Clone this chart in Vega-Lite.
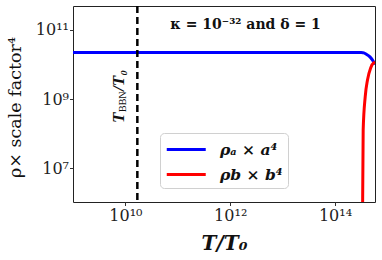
{
  "$schema": "https://vega.github.io/schema/vega-lite/v6.json",
  "width": 302,
  "height": 196,
  "autosize": "none",
  "padding": {"left": 73, "top": 6, "right": 7, "bottom": 58},
  "background": "white",
  "config": {
    "view": {"stroke": "#222", "strokeWidth": 1},
    "axis": {
      "grid": false,
      "domain": false,
      "labelFont": "DejaVu Serif",
      "labelFontSize": 16,
      "labelColor": "#222",
      "tickColor": "#333",
      "tickSize": 3.5,
      "titleFont": "DejaVu Serif",
      "titleColor": "#111"
    }
  },
  "datasets": {
    "curves": [
      {"T": 1e9, "rho": 2.21e10, "s": "ρₐ × a⁴"},
      {"T": 1e12, "rho": 2.21e10, "s": "ρₐ × a⁴"},
      {"T": 3.16e14, "rho": 2.21e10, "s": "ρₐ × a⁴"},
      {"T": 3.41e14, "rho": 2.2e10, "s": "ρₐ × a⁴"},
      {"T": 3.55e14, "rho": 2.17e10, "s": "ρₐ × a⁴"},
      {"T": 3.89e14, "rho": 2.02e10, "s": "ρₐ × a⁴"},
      {"T": 4.65e14, "rho": 1.66e10, "s": "ρₐ × a⁴"},
      {"T": 5.61e14, "rho": 1.11e10, "s": "ρₐ × a⁴"},
      {"T": 5.8e14, "rho": 1.0e10, "s": "ρₐ × a⁴"},
      {"T": 3.35e14, "rho": 1e5, "s": "ρb × b⁴"},
      {"T": 3.37e14, "rho": 1.07e6, "s": "ρb × b⁴"},
      {"T": 3.45e14, "rho": 1.29e8, "s": "ρb × b⁴"},
      {"T": 3.77e14, "rho": 1.17e9, "s": "ρb × b⁴"},
      {"T": 4.17e14, "rho": 3.59e9, "s": "ρb × b⁴"},
      {"T": 4.79e14, "rho": 7.94e9, "s": "ρb × b⁴"},
      {"T": 5.5e14, "rho": 1.12e10, "s": "ρb × b⁴"},
      {"T": 5.8e14, "rho": 1.15e10, "s": "ρb × b⁴"}
    ]
  },
  "layer": [
    {
      "data": {"name": "curves"},
      "mark": {"type": "line", "strokeWidth": 3, "clip": true, "interpolate": "monotone"},
      "encoding": {
        "x": {
          "field": "T", "type": "quantitative",
          "scale": {"type": "log", "domain": [1e9, 5.8e14], "nice": false},
          "axis": {
            "values": [1e10, 1e12, 1e14],
            "labelExpr": "datum.value < 1e11 ? '10¹⁰' : datum.value < 1e13 ? '10¹²' : '10¹⁴'",
            "labelPadding": 2,
            "title": "T/T₀",
            "titleFontSize": 20,
            "titleFontStyle": "italic",
            "titleFontWeight": "bold",
            "titleX": 151,
            "titleY": 41,
            "titleBaseline": "middle"
          }
        },
        "y": {
          "field": "rho", "type": "quantitative",
          "scale": {"type": "log", "domain": [1.07e6, 4.9e11], "nice": false},
          "axis": {
            "values": [1e7, 1e9, 1e11],
            "labelExpr": "datum.value < 1e8 ? '10⁷' : datum.value < 1e10 ? '10⁹' : '10¹¹'",
            "labelPadding": 1,
            "title": "ρ× scale factor⁴",
            "titleFontSize": 17.5,
            "titleFontWeight": "normal",
            "titleAngle": -90,
            "titleX": -58,
            "titleY": 101,
            "titleAlign": "center",
            "titleBaseline": "middle"
          }
        },
        "color": {
          "field": "s", "type": "nominal",
          "scale": {"domain": ["ρₐ × a⁴", "ρb × b⁴"], "range": ["#0000ff", "#ff0000"]},
          "legend": {
            "title": null,
            "orient": "none",
            "legendX": 87,
            "legendY": 127,
            "symbolType": "M-1,0H3",
            "symbolStrokeWidth": 3,
            "symbolSize": 380,
            "labelFont": "DejaVu Serif",
            "labelFontSize": 15.5,
            "labelFontStyle": "italic",
            "labelFontWeight": "bold",
            "labelColor": "#111",
            "labelOffset": 32,
            "rowPadding": 5,
            "padding": 5,
            "strokeColor": "#d0d0d0",
            "fillColor": "white",
            "cornerRadius": 4
          }
        }
      }
    },
    {
      "data": {"values": [{"T": 1.69e10}]},
      "mark": {"type": "rule", "strokeDash": [7, 4], "strokeWidth": 2.5, "color": "black"},
      "encoding": {"x": {"field": "T", "type": "quantitative"}}
    },
    {
      "data": {"values": [{"T": 7.2e10, "rho": 1.38e11, "t": "κ = 10⁻³² and δ = 1"}]},
      "mark": {"type": "text", "font": "DejaVu Serif", "fontSize": 14, "fontWeight": "bold", "align": "left", "color": "#111"},
      "encoding": {
        "x": {"field": "T", "type": "quantitative"},
        "y": {"field": "rho", "type": "quantitative"},
        "text": {"field": "t"}
      }
    },
    {
      "data": {"values": [{"T": 7.4e9, "rho": 2.05e8, "t": "T"}]},
      "mark": {"type": "text", "font": "Liberation Serif", "fontSize": 17, "fontWeight": "bold", "fontStyle": "italic", "angle": 270, "align": "left", "baseline": "middle", "color": "#111"},
      "encoding": {
        "x": {"field": "T", "type": "quantitative"},
        "y": {"field": "rho", "type": "quantitative"},
        "text": {"field": "t"}
      }
    },
    {
      "data": {"values": [{"T": 7.4e9, "rho": 2.05e8, "t": "BBN"}]},
      "mark": {"type": "text", "font": "Liberation Serif", "fontSize": 10, "angle": 270, "align": "left", "baseline": "middle", "dx": 11, "dy": 4, "color": "#111"},
      "encoding": {
        "x": {"field": "T", "type": "quantitative"},
        "y": {"field": "rho", "type": "quantitative"},
        "text": {"field": "t"}
      }
    },
    {
      "data": {"values": [{"T": 7.4e9, "rho": 2.05e8, "t": "/T₀"}]},
      "mark": {"type": "text", "font": "Liberation Serif", "fontSize": 17, "fontWeight": "bold", "fontStyle": "italic", "angle": 270, "align": "left", "baseline": "middle", "dx": 32, "color": "#111"},
      "encoding": {
        "x": {"field": "T", "type": "quantitative"},
        "y": {"field": "rho", "type": "quantitative"},
        "text": {"field": "t"}
      }
    }
  ]
}
